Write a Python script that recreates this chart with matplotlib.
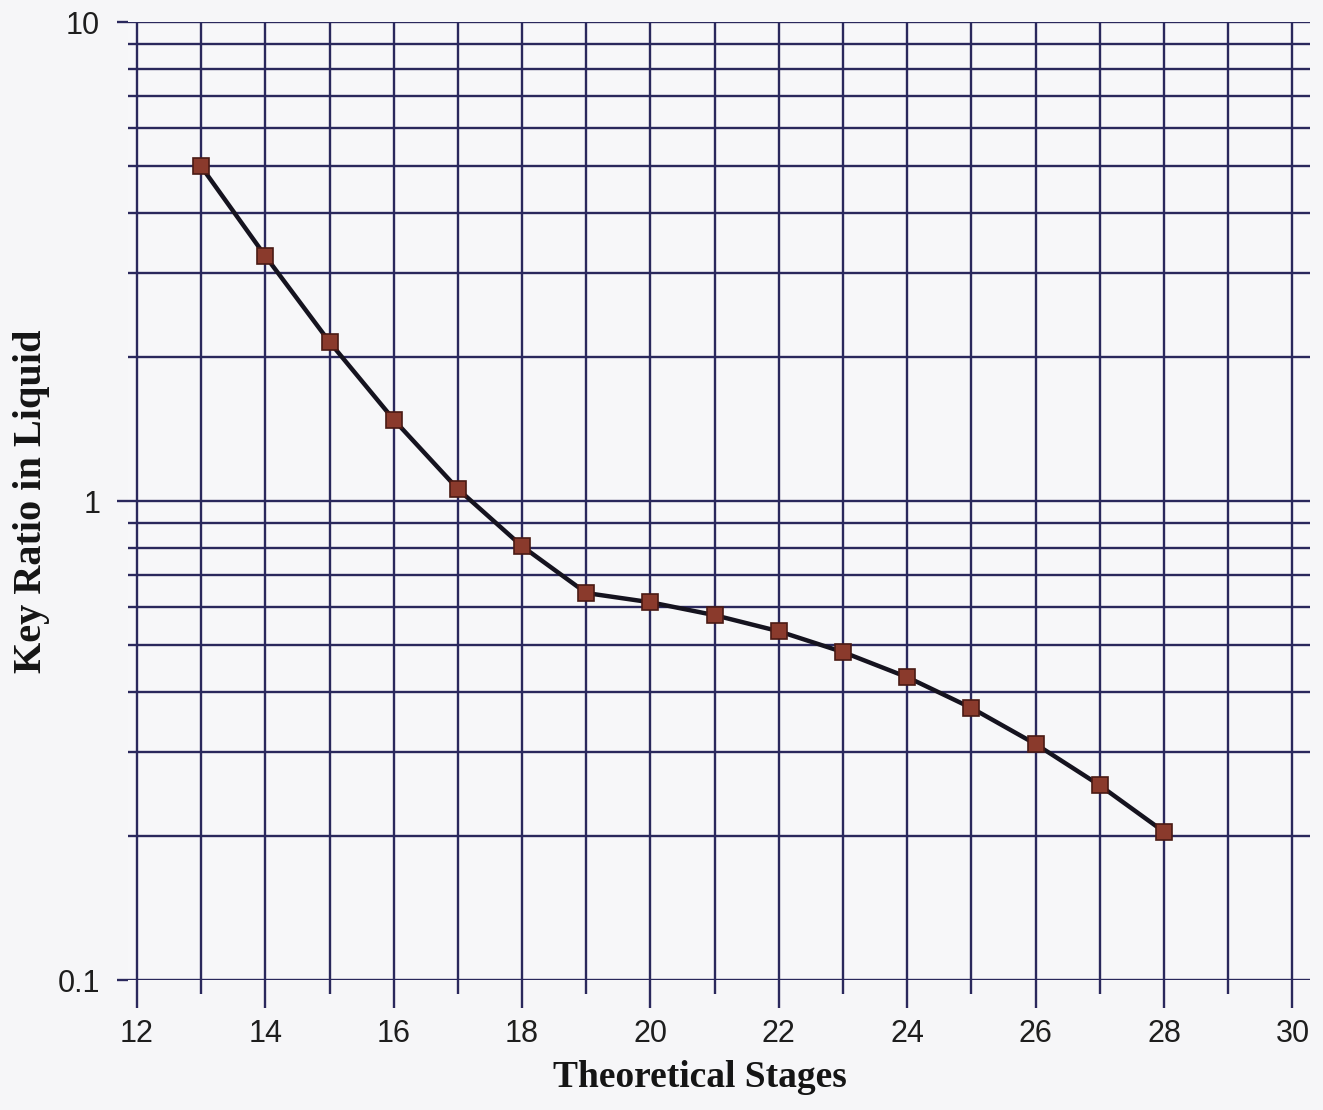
import numpy as np
import matplotlib.pyplot as plt
from matplotlib.ticker import MultipleLocator, LogLocator, FixedFormatter, FixedLocator, NullFormatter

# данные
stages = [13, 14, 15, 16, 17, 18, 19, 20, 21, 22, 23, 24, 25, 26, 27, 28]
key_ratio = [5.0, 3.25, 2.15, 1.48, 1.06, 0.805, 0.643, 0.615, 0.578, 0.535,
             0.484, 0.429, 0.370, 0.311, 0.255, 0.204]
y_ticks = [0.1, 1, 10]
y_tick_labels = ['0.1', '1', '10']

grid_col = '#2a285c'

fig = plt.figure(figsize=(13.23, 11.1), dpi=100, facecolor='#f6f6f8')
ax = fig.add_axes([0.0967, 0.117, 0.8933, 0.863])
ax.set_facecolor('#f7f7f9')

ax.set_yscale('log')
ax.set_xlim(11.86, 30.27)
ax.set_ylim(0.1, 10)

ax.xaxis.set_major_locator(MultipleLocator(2))
ax.xaxis.set_minor_locator(MultipleLocator(1))
ax.yaxis.set_major_locator(FixedLocator(y_ticks))
ax.yaxis.set_major_formatter(FixedFormatter(y_tick_labels))
ax.yaxis.set_minor_locator(LogLocator(base=10, subs=np.arange(2, 10)))
ax.yaxis.set_minor_formatter(NullFormatter())

ax.grid(True, which='both', color=grid_col, linewidth=1.7)
for s in ax.spines.values():
    s.set_visible(False)

ax.tick_params(axis='x', which='major', direction='out', length=20, width=1.7,
               color=grid_col, pad=8, labelsize=22)
ax.tick_params(axis='x', which='minor', direction='out', length=10, width=1.7,
               color=grid_col)
ax.tick_params(axis='y', which='major', direction='out', length=8, width=1.7,
               color=grid_col, pad=12, labelsize=22)
ax.tick_params(axis='y', which='minor', length=0)
for lab in ax.get_xticklabels() + ax.get_yticklabels():
    lab.set_fontfamily('Liberation Sans')
    lab.set_color('#1e1e1e')

ax.plot(stages, key_ratio, color='#15131f', linewidth=3.2, marker='s',
        markersize=11, markerfacecolor='#8a3a2c', markeredgecolor='#4a1a14',
        markeredgewidth=1.2, zorder=5)

ax.set_xlabel('Theoretical Stages', fontfamily='Liberation Serif', fontweight='bold',
              fontsize=27, color='#151515')
ax.set_ylabel('Key Ratio in Liquid', fontfamily='Liberation Serif', fontweight='bold',
              fontsize=29, color='#151515')
ax.xaxis.set_label_coords(0.484, -0.083)
ax.yaxis.set_label_coords(-0.066, 0.5)

plt.savefig('out.png', dpi=100, facecolor=fig.get_facecolor())
